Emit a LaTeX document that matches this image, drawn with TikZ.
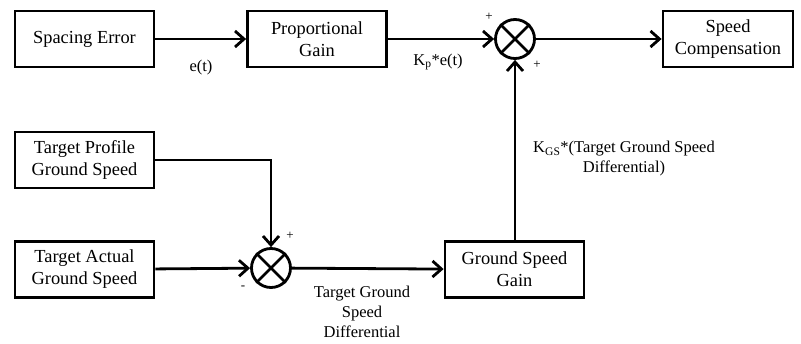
\documentclass[tikz,border=0pt]{standalone}
\usepackage{fontspec}
\setmainfont{Liberation Serif}
\usetikzlibrary{arrows.meta}
\begin{document}
\begin{tikzpicture}[x=1pt,y=-1pt,
  blk/.style={draw,line width=2.8pt,minimum width=139pt,minimum height=56pt,align=center,inner sep=0pt,font=\fontsize{18.4}{22}\selectfont},
  sumnode/.style={draw,circle,line width=2.8pt,minimum size=39pt,inner sep=0pt},
  conn/.style={line width=2.8pt,-{Straight Barb[length=9pt,width=16pt,line width=2.8pt]}},
  lbl/.style={font=\fontsize{16.5}{20}\selectfont,align=center,inner sep=0pt},
  sgn/.style={font=\fontsize{13}{14}\selectfont,inner sep=0pt}]
\useasboundingbox (0,0) rectangle (801,343);
\node[blk] (se) at (84.5,39) {Spacing Error};
\node[blk] (pg) at (317,39) {Proportional\\Gain};
\node[sumnode] (s1) at (515,39) {};
\draw[line width=2.8pt] (s1.north west) -- (s1.south east) (s1.north east) -- (s1.south west);
\node[blk,minimum width=130pt] (sc) at (728,39) {Speed\\Compensation};
\node[blk] (tp) at (84.5,160) {Target Profile\\Ground Speed};
\node[blk] (ta) at (84.5,269.5) {Target Actual\\Ground Speed};
\node[sumnode] (s2) at (271,268) {};
\draw[line width=2.8pt] (s2.north west) -- (s2.south east) (s2.north east) -- (s2.south west);
\node[blk] (gs) at (514.5,269.5) {Ground Speed\\Gain};
\draw[conn] (se) -- (pg);
\draw[conn] (pg) -- (s1);
\draw[conn] (s1) -- (sc);
\draw[conn] (tp.east) -| (s2.north);
\draw[conn] (ta) -- (s2);
\draw[conn] (s2) -- (gs);
\draw[conn] (gs.north -| s1.south) -- (s1.south);
\node[lbl] (l1) at (201,68) {e(t)};
\node[lbl] (l2) at (438,62) {K\textsubscript{p}*e(t)};
\node[lbl] (l3) at (624,159) {K\textsubscript{GS}*(Target Ground Speed\\Differential)};
\node[lbl] (l4) at (362,312) {Target Ground\\Speed\\Differential};
\node[sgn] (p1) at (489,17) {+};
\node[sgn] (p2) at (537,65) {+};
\node[sgn] (p3) at (290,236) {+};
\node[sgn] (m1) at (243,288) {-};
\end{tikzpicture}
\end{document}
